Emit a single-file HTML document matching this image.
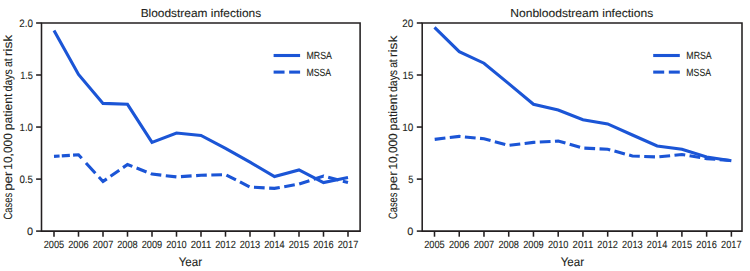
<!DOCTYPE html>
<html><head><meta charset="utf-8"><style>
html,body{margin:0;padding:0;background:#fff;width:750px;height:271px;overflow:hidden}
svg{display:block}
text{font-family:"Liberation Sans", sans-serif;fill:#231f20;stroke:#231f20;stroke-width:0.1px;text-rendering:geometricPrecision}
</style></head><body>
<svg width="750" height="271" viewBox="0 0 750 271">
<rect width="750" height="271" fill="#fff"/>
<path d="M41.50,23.00 H360.10 V231.10 H41.50 Z" fill="none" stroke="#231f20" stroke-width="1.55" stroke-linejoin="miter"/>
<line x1="36.10" y1="23.00" x2="41.50" y2="23.00" stroke="#231f20" stroke-width="1.55"/>
<line x1="36.10" y1="75.00" x2="41.50" y2="75.00" stroke="#231f20" stroke-width="1.55"/>
<line x1="36.10" y1="127.05" x2="41.50" y2="127.05" stroke="#231f20" stroke-width="1.55"/>
<line x1="36.10" y1="179.10" x2="41.50" y2="179.10" stroke="#231f20" stroke-width="1.55"/>
<line x1="36.10" y1="231.10" x2="41.50" y2="231.10" stroke="#231f20" stroke-width="1.55"/>
<line x1="54.00" y1="231.10" x2="54.00" y2="236.70" stroke="#231f20" stroke-width="1.55"/>
<line x1="78.50" y1="231.10" x2="78.50" y2="236.70" stroke="#231f20" stroke-width="1.55"/>
<line x1="103.00" y1="231.10" x2="103.00" y2="236.70" stroke="#231f20" stroke-width="1.55"/>
<line x1="127.50" y1="231.10" x2="127.50" y2="236.70" stroke="#231f20" stroke-width="1.55"/>
<line x1="152.00" y1="231.10" x2="152.00" y2="236.70" stroke="#231f20" stroke-width="1.55"/>
<line x1="176.50" y1="231.10" x2="176.50" y2="236.70" stroke="#231f20" stroke-width="1.55"/>
<line x1="201.00" y1="231.10" x2="201.00" y2="236.70" stroke="#231f20" stroke-width="1.55"/>
<line x1="225.50" y1="231.10" x2="225.50" y2="236.70" stroke="#231f20" stroke-width="1.55"/>
<line x1="250.00" y1="231.10" x2="250.00" y2="236.70" stroke="#231f20" stroke-width="1.55"/>
<line x1="274.50" y1="231.10" x2="274.50" y2="236.70" stroke="#231f20" stroke-width="1.55"/>
<line x1="299.00" y1="231.10" x2="299.00" y2="236.70" stroke="#231f20" stroke-width="1.55"/>
<line x1="323.50" y1="231.10" x2="323.50" y2="236.70" stroke="#231f20" stroke-width="1.55"/>
<line x1="348.00" y1="231.10" x2="348.00" y2="236.70" stroke="#231f20" stroke-width="1.55"/>
<path d="M54.00,30.50 L78.50,74.40 L103.00,103.40 L127.50,104.30 L152.00,142.40 L176.50,133.00 L201.00,135.40 L225.50,148.30 L250.00,162.20 L274.50,176.60 L299.00,169.90 L323.50,182.60 L348.00,177.60" fill="none" stroke="#1b55d6" stroke-width="3.10" stroke-linejoin="miter" stroke-miterlimit="4"/>
<path d="M54.00,156.40 L78.50,154.80 L103.00,181.50 L127.50,164.50 L152.00,174.10 L176.50,176.90 L201.00,175.30 L225.50,174.60 L250.00,187.10 L274.50,188.40 L299.00,184.10 L323.50,176.00 L348.00,182.60" fill="none" stroke="#1b55d6" stroke-width="3.10" stroke-dasharray="5.60,2.20,8.10,3.20,10.20,6.30,13.90,5.20,10.70,4.52,10.70,4.52,10.70,4.52,10.70,4.52,10.70,4.52,10.70,4.52,10.70,4.52,10.70,4.52,10.70,4.52,10.70,4.52,10.70,4.52,10.70,4.52,10.70,4.52,10.70,4.52,10.70,4.52,10.70,4.52,10.70,4.52,10.70,4.52,10.70,4.52,10.70,4.52" stroke-dashoffset="0.00" stroke-linejoin="miter" stroke-miterlimit="4"/>
<line x1="273.60" y1="55.5" x2="300.10" y2="55.5" stroke="#1b55d6" stroke-width="3.10"/>
<line x1="273.60" y1="72.1" x2="284.55" y2="72.1" stroke="#1b55d6" stroke-width="3.10"/>
<line x1="289.15" y1="72.1" x2="300.10" y2="72.1" stroke="#1b55d6" stroke-width="3.10"/>
<path d="M422.20,23.00 H742.00 V231.10 H422.20 Z" fill="none" stroke="#231f20" stroke-width="1.55" stroke-linejoin="miter"/>
<line x1="416.80" y1="23.00" x2="422.20" y2="23.00" stroke="#231f20" stroke-width="1.55"/>
<line x1="416.80" y1="75.00" x2="422.20" y2="75.00" stroke="#231f20" stroke-width="1.55"/>
<line x1="416.80" y1="127.05" x2="422.20" y2="127.05" stroke="#231f20" stroke-width="1.55"/>
<line x1="416.80" y1="179.10" x2="422.20" y2="179.10" stroke="#231f20" stroke-width="1.55"/>
<line x1="416.80" y1="231.10" x2="422.20" y2="231.10" stroke="#231f20" stroke-width="1.55"/>
<line x1="434.50" y1="231.10" x2="434.50" y2="236.70" stroke="#231f20" stroke-width="1.55"/>
<line x1="459.24" y1="231.10" x2="459.24" y2="236.70" stroke="#231f20" stroke-width="1.55"/>
<line x1="483.98" y1="231.10" x2="483.98" y2="236.70" stroke="#231f20" stroke-width="1.55"/>
<line x1="508.72" y1="231.10" x2="508.72" y2="236.70" stroke="#231f20" stroke-width="1.55"/>
<line x1="533.46" y1="231.10" x2="533.46" y2="236.70" stroke="#231f20" stroke-width="1.55"/>
<line x1="558.20" y1="231.10" x2="558.20" y2="236.70" stroke="#231f20" stroke-width="1.55"/>
<line x1="582.94" y1="231.10" x2="582.94" y2="236.70" stroke="#231f20" stroke-width="1.55"/>
<line x1="607.68" y1="231.10" x2="607.68" y2="236.70" stroke="#231f20" stroke-width="1.55"/>
<line x1="632.42" y1="231.10" x2="632.42" y2="236.70" stroke="#231f20" stroke-width="1.55"/>
<line x1="657.16" y1="231.10" x2="657.16" y2="236.70" stroke="#231f20" stroke-width="1.55"/>
<line x1="681.90" y1="231.10" x2="681.90" y2="236.70" stroke="#231f20" stroke-width="1.55"/>
<line x1="706.64" y1="231.10" x2="706.64" y2="236.70" stroke="#231f20" stroke-width="1.55"/>
<line x1="731.38" y1="231.10" x2="731.38" y2="236.70" stroke="#231f20" stroke-width="1.55"/>
<path d="M434.50,27.40 L459.24,51.70 L483.98,63.20 L508.72,83.60 L533.46,104.20 L558.20,110.00 L582.94,119.80 L607.68,123.90 L632.42,135.00 L657.16,146.00 L681.90,149.30 L706.64,157.10 L731.38,160.70" fill="none" stroke="#1b55d6" stroke-width="3.10" stroke-linejoin="miter" stroke-miterlimit="4"/>
<path d="M434.50,139.40 L459.24,136.40 L483.98,138.80 L508.72,145.30 L533.46,142.40 L558.20,141.00 L582.94,148.10 L607.68,149.20 L632.42,156.00 L657.16,157.00 L681.90,154.50 L706.64,158.60 L731.38,160.50" fill="none" stroke="#1b55d6" stroke-width="3.10" stroke-dasharray="10.8,4.4" stroke-dashoffset="15.01" stroke-linejoin="miter" stroke-miterlimit="4"/>
<line x1="653.20" y1="55.5" x2="679.80" y2="55.5" stroke="#1b55d6" stroke-width="3.10"/>
<line x1="653.20" y1="72.1" x2="664.20" y2="72.1" stroke="#1b55d6" stroke-width="3.10"/>
<line x1="668.80" y1="72.1" x2="679.80" y2="72.1" stroke="#1b55d6" stroke-width="3.10"/>
<text font-size="11.483" transform="translate(140.65,16.90) scale(1.0381,1)">Bloodstream infections</text>
<text font-size="10.610" transform="translate(19.31,26.50) scale(0.9280,1)">2.0</text>
<text font-size="10.610" transform="translate(20.21,78.50) scale(0.8649,1)">1.5</text>
<text font-size="10.610" transform="translate(19.58,130.55) scale(0.9092,1)">1.0</text>
<text font-size="10.610" transform="translate(19.41,182.60) scale(0.9209,1)">0.5</text>
<text font-size="10.610" transform="translate(26.96,234.60) scale(1.0318,1)">0</text>
<text font-size="10.465" transform="translate(43.69,248.40) scale(0.8817,1)">2005</text>
<text font-size="10.465" transform="translate(68.19,248.40) scale(0.8838,1)">2006</text>
<text font-size="10.465" transform="translate(92.69,248.40) scale(0.8859,1)">2007</text>
<text font-size="10.465" transform="translate(117.19,248.40) scale(0.8817,1)">2008</text>
<text font-size="10.465" transform="translate(141.69,248.40) scale(0.8838,1)">2009</text>
<text font-size="10.465" transform="translate(166.19,248.40) scale(0.8817,1)">2010</text>
<text font-size="10.465" transform="translate(190.67,248.40) scale(0.9183,1)">2011</text>
<text font-size="10.465" transform="translate(215.19,248.40) scale(0.8859,1)">2012</text>
<text font-size="10.465" transform="translate(239.69,248.40) scale(0.8838,1)">2013</text>
<text font-size="10.465" transform="translate(264.19,248.40) scale(0.8776,1)">2014</text>
<text font-size="10.465" transform="translate(288.69,248.40) scale(0.8817,1)">2015</text>
<text font-size="10.465" transform="translate(313.19,248.40) scale(0.8838,1)">2016</text>
<text font-size="10.465" transform="translate(337.69,248.40) scale(0.8859,1)">2017</text>
<text font-size="12.209" transform="translate(178.71,265.80) scale(0.9473,1)">Year</text>
<text font-size="12.000" transform="translate(12.30,219.47) rotate(-90) scale(0.7818,1)">Cases</text>
<text font-size="12.000" transform="translate(12.30,190.87) rotate(-90) scale(1.1152,1)">per</text>
<text font-size="12.000" transform="translate(12.30,169.70) rotate(-90) scale(0.9960,1)">10,000</text>
<text font-size="12.000" transform="translate(12.30,130.19) rotate(-90) scale(1.0125,1)">patient</text>
<text font-size="12.000" transform="translate(12.30,91.42) rotate(-90) scale(0.8763,1)">days</text>
<text font-size="12.000" transform="translate(12.30,67.06) rotate(-90) scale(0.8547,1)">at</text>
<text font-size="12.000" transform="translate(12.30,56.30) rotate(-90) scale(1.1577,1)">risk</text>
<text font-size="10.320" transform="translate(306.39,59.10) scale(0.8567,1)">MRSA</text>
<text font-size="10.320" transform="translate(306.40,75.60) scale(0.8457,1)">MSSA</text>
<text font-size="11.483" transform="translate(510.23,16.90) scale(1.0532,1)">Nonbloodstream infections</text>
<text font-size="10.610" transform="translate(402.30,26.50) scale(0.9332,1)">20</text>
<text font-size="10.610" transform="translate(402.47,78.50) scale(0.9188,1)">15</text>
<text font-size="10.610" transform="translate(402.25,130.55) scale(0.9377,1)">10</text>
<text font-size="10.610" transform="translate(408.13,182.60) scale(0.8730,1)">5</text>
<text font-size="10.610" transform="translate(407.26,234.60) scale(1.0318,1)">0</text>
<text font-size="10.465" transform="translate(424.19,248.40) scale(0.8817,1)">2005</text>
<text font-size="10.465" transform="translate(448.93,248.40) scale(0.8838,1)">2006</text>
<text font-size="10.465" transform="translate(473.67,248.40) scale(0.8859,1)">2007</text>
<text font-size="10.465" transform="translate(498.41,248.40) scale(0.8817,1)">2008</text>
<text font-size="10.465" transform="translate(523.15,248.40) scale(0.8838,1)">2009</text>
<text font-size="10.465" transform="translate(547.89,248.40) scale(0.8817,1)">2010</text>
<text font-size="10.465" transform="translate(572.61,248.40) scale(0.9183,1)">2011</text>
<text font-size="10.465" transform="translate(597.37,248.40) scale(0.8859,1)">2012</text>
<text font-size="10.465" transform="translate(622.11,248.40) scale(0.8838,1)">2013</text>
<text font-size="10.465" transform="translate(646.85,248.40) scale(0.8776,1)">2014</text>
<text font-size="10.465" transform="translate(671.59,248.40) scale(0.8817,1)">2015</text>
<text font-size="10.465" transform="translate(696.33,248.40) scale(0.8838,1)">2016</text>
<text font-size="10.465" transform="translate(721.07,248.40) scale(0.8859,1)">2017</text>
<text font-size="12.209" transform="translate(560.71,265.80) scale(0.9473,1)">Year</text>
<text font-size="12.000" transform="translate(397.10,218.97) rotate(-90) scale(0.7755,1)">Cases</text>
<text font-size="12.000" transform="translate(397.10,190.60) rotate(-90) scale(1.1062,1)">per</text>
<text font-size="12.000" transform="translate(397.10,169.60) rotate(-90) scale(0.9880,1)">10,000</text>
<text font-size="12.000" transform="translate(397.10,130.41) rotate(-90) scale(1.0043,1)">patient</text>
<text font-size="12.000" transform="translate(397.10,91.96) rotate(-90) scale(0.8692,1)">days</text>
<text font-size="12.000" transform="translate(397.10,67.80) rotate(-90) scale(0.8478,1)">at</text>
<text font-size="12.000" transform="translate(397.10,57.13) rotate(-90) scale(1.1483,1)">risk</text>
<text font-size="10.320" transform="translate(686.30,59.10) scale(0.8533,1)">MRSA</text>
<text font-size="10.320" transform="translate(686.30,75.60) scale(0.8457,1)">MSSA</text>
</svg>
</body></html>
